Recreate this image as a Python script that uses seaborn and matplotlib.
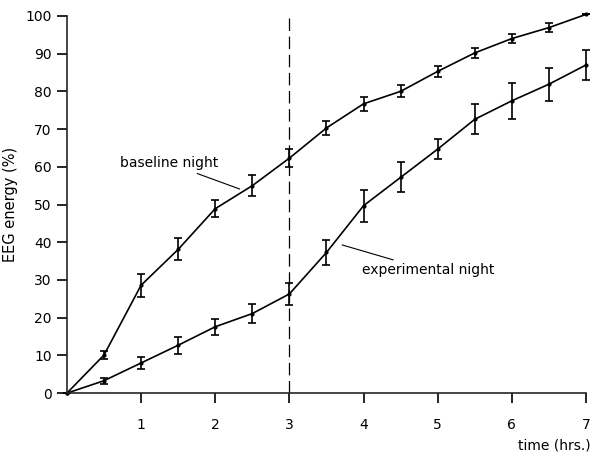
import numpy as np
import pandas as pd
import seaborn as sns
import matplotlib.pyplot as plt

# values
hours = [0, 0.5, 1, 1.5, 2, 2.5, 3, 3.5, 4, 4.5, 5, 5.5, 6, 6.5, 7]
baseline = [0, 10.1, 28.6, 38.1, 48.9, 55.0, 62.3, 70.3, 76.7, 80.0, 85.3, 90.2, 94.0, 96.9, 100.4]
baseline_err = [0, 1.0, 3.0, 2.9, 2.3, 2.8, 2.4, 1.8, 1.8, 1.6, 1.5, 1.4, 1.2, 1.2, 0]
experimental = [0, 3.3, 8.0, 12.7, 17.6, 21.1, 26.3, 37.3, 49.7, 57.2, 64.7, 72.6, 77.5, 81.9, 87.0]
experimental_err = [0, 0.8, 1.5, 2.2, 2.1, 2.6, 2.9, 3.2, 4.2, 4.0, 2.6, 4.0, 4.8, 4.4, 4.0]

x_ticks = [1, 2, 3, 4, 5, 6, 7]
y_ticks = list(range(0, 101, 10))

df = pd.DataFrame({
    "time": hours * 2,
    "energy": baseline + experimental,
    "night": ["baseline"] * len(hours) + ["experimental"] * len(hours),
})

sns.set_style("ticks")
plt.rcParams["font.family"] = ["DejaVu Sans"]
plt.rcParams["text.color"] = "black"
plt.rcParams["axes.labelcolor"] = "black"

fig = plt.figure(figsize=(5.92, 4.54), dpi=100)
ax = fig.add_axes([0.113, 0.134, 0.877, 0.831])

sns.lineplot(data=df, x="time", y="energy", units="night", estimator=None,
             color="black", linewidth=1.2, marker="o", markersize=3,
             markeredgewidth=0, legend=False, ax=ax, clip_on=False)

for vals, errs in [(baseline, baseline_err), (experimental, experimental_err)]:
    ax.errorbar(hours, vals, yerr=errs, fmt="none", ecolor="black",
                elinewidth=1.2, capsize=3, capthick=1.2, clip_on=False)

ax.axvline(3, ymin=0, ymax=1, color="black", linewidth=0.9, dashes=(10, 4.5))

ax.annotate("baseline night", xy=(2.33, 54.1), xytext=(2.04, 59.1),
            ha="right", va="bottom", fontsize=10,
            arrowprops=dict(arrowstyle="-", color="black", lw=0.8, shrinkA=0, shrinkB=0))
ax.annotate("experimental night", xy=(3.71, 39.3), xytext=(3.98, 32.6),
            ha="left", va="center", fontsize=10,
            arrowprops=dict(arrowstyle="-", color="black", lw=0.8, shrinkA=0, shrinkB=0))

ax.set_xlim(0, 7)
ax.set_ylim(0, 100)
ax.set_xticks(x_ticks)
ax.set_yticks(y_ticks)
ax.tick_params(labelsize=10, width=1.2, length=7, colors="black")
ax.tick_params(axis="x", pad=11)
ax.tick_params(axis="y", pad=4)
ax.set_xlabel("")
ax.set_ylabel("EEG energy (%)", fontsize=10.5, labelpad=5)
fig.text(0.998, 0.003, "time (hrs.)", ha="right", va="bottom", fontsize=10)

for s in ["left", "bottom"]:
    ax.spines[s].set_linewidth(1.2)
sns.despine(ax=ax)

fig.savefig("out.png", dpi=100)
